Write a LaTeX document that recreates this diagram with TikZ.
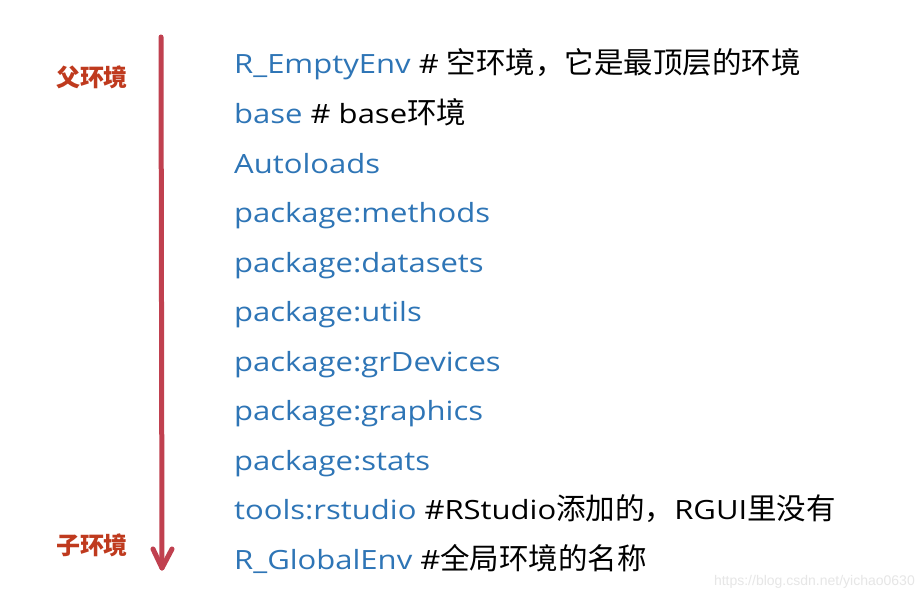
\documentclass[tikz,border=0pt]{standalone}
\usepackage{fontspec}
\setmainfont{Open Sans}[FakeStretch=1.17]
\newfontfamily\cjkfam{Noto Sans CJK SC}
\newcommand{\zh}[1]{{\cjkfam\fontsize{29.5}{32}\selectfont #1}}
\newfontfamily\wmfont{Liberation Sans}
\definecolor{rblue}{HTML}{2E75B6}
\definecolor{lblred}{HTML}{BF3A1E}
\definecolor{arrred}{HTML}{C0404F}
\definecolor{wmgrey}{HTML}{E6E6E6}
\begin{document}
\begin{tikzpicture}[x=1pt,y=-1pt,
  entry/.style={anchor=base west,inner sep=0pt,font=\fontsize{26.5}{30}\selectfont},
  side/.style={anchor=center,inner sep=0pt,text=lblred,font=\cjkfam\fontsize{24}{26}\selectfont\bfseries},
  arr/.style={draw=arrred,line width=5pt,line cap=round,line join=round}]
\useasboundingbox (0,0) rectangle (924,602);
\fill[white] (0,0) rectangle (924,602);
\node[entry] (l1) at (234,74) {\textcolor{rblue}{R\_EmptyEnv} \# \zh{空环境，它是最顶层的环境}};
\node[entry] (l2) at (234,123.5) {\textcolor{rblue}{base} \# base\zh{环境}};
\node[entry] (l3) at (234,173) {\textcolor{rblue}{Autoloads}};
\node[entry] (l4) at (234,222.5) {\textcolor{rblue}{package:methods}};
\node[entry] (l5) at (234,272) {\textcolor{rblue}{package:datasets}};
\node[entry] (l6) at (234,321.5) {\textcolor{rblue}{package:utils}};
\node[entry] (l7) at (234,371) {\textcolor{rblue}{package:grDevices}};
\node[entry] (l8) at (234,420.5) {\textcolor{rblue}{package:graphics}};
\node[entry] (l9) at (234,470) {\textcolor{rblue}{package:stats}};
\node[entry] (l10) at (234,519.5) {\textcolor{rblue}{tools:rstudio} \#RStudio\zh{添加的，}RGUI\zh{里没有}};
\node[entry] (l11) at (234,569) {\textcolor{rblue}{R\_GlobalEnv} \#\zh{全局环境的名称}};
\node[side] (parent) at (92,77) {父环境};
\node[side] (child) at (92,545) {子环境};
\coordinate (top) at (161,37);
\coordinate (tip) at (162,568);
\coordinate (hl) at (153,549);
\coordinate (hr) at (172,549);
\draw[arr] (top) -- (tip);
\draw[arr] (hl) -- (tip) -- (hr);
\node[anchor=east,inner sep=0pt,text=wmgrey,font=\wmfont\fontsize{14}{16}\selectfont] (wm) at (915,582) {https://blog.csdn.net/yichao0630};
\end{tikzpicture}
\end{document}
